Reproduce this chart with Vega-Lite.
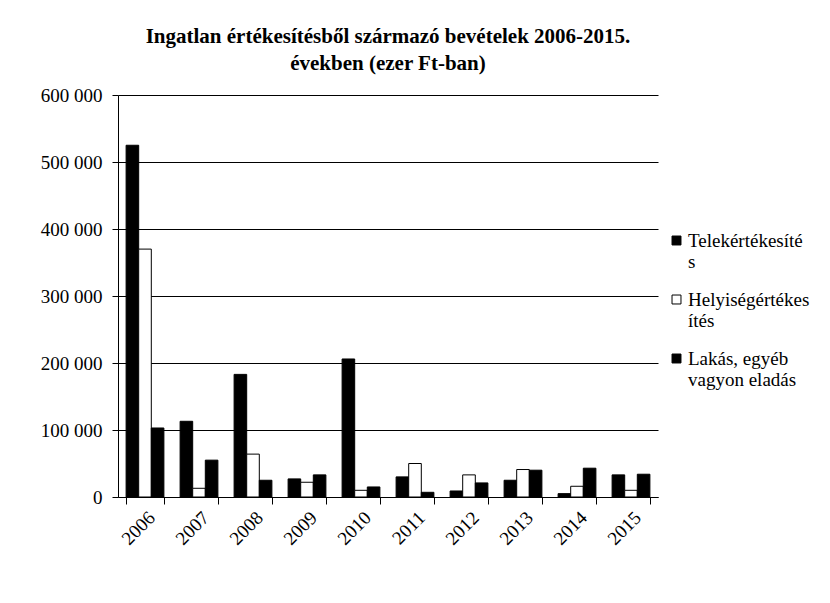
{
  "$schema": "https://vega.github.io/schema/vega-lite/v6.json",
  "width": 540,
  "height": 402,
  "autosize": {"type": "none"},
  "padding": {"left": 118, "top": 95, "right": 172, "bottom": 106},
  "background": "white",
  "title": {
    "text": ["Ingatlan értékesítésből származó bevételek 2006-2015.", "években (ezer Ft-ban)"],
    "font": "Liberation Serif",
    "fontSize": 21,
    "fontWeight": "bold",
    "color": "black",
    "anchor": "middle",
    "frame": "group",
    "lineHeight": 27,
    "offset": 12
  },
  "data": {
    "values": [
      {"ev": "2006", "sorozat": "Telekértékesítés", "ertek": 525000},
      {"ev": "2006", "sorozat": "Helyiségértékesítés", "ertek": 370000},
      {"ev": "2006", "sorozat": "Lakás, egyéb vagyon eladás", "ertek": 103000},
      {"ev": "2007", "sorozat": "Telekértékesítés", "ertek": 113000},
      {"ev": "2007", "sorozat": "Helyiségértékesítés", "ertek": 13000},
      {"ev": "2007", "sorozat": "Lakás, egyéb vagyon eladás", "ertek": 55000},
      {"ev": "2008", "sorozat": "Telekértékesítés", "ertek": 183000},
      {"ev": "2008", "sorozat": "Helyiségértékesítés", "ertek": 64000},
      {"ev": "2008", "sorozat": "Lakás, egyéb vagyon eladás", "ertek": 25000},
      {"ev": "2009", "sorozat": "Telekértékesítés", "ertek": 27000},
      {"ev": "2009", "sorozat": "Helyiségértékesítés", "ertek": 22000},
      {"ev": "2009", "sorozat": "Lakás, egyéb vagyon eladás", "ertek": 33000},
      {"ev": "2010", "sorozat": "Telekértékesítés", "ertek": 206000},
      {"ev": "2010", "sorozat": "Helyiségértékesítés", "ertek": 10000},
      {"ev": "2010", "sorozat": "Lakás, egyéb vagyon eladás", "ertek": 15000},
      {"ev": "2011", "sorozat": "Telekértékesítés", "ertek": 30000},
      {"ev": "2011", "sorozat": "Helyiségértékesítés", "ertek": 50000},
      {"ev": "2011", "sorozat": "Lakás, egyéb vagyon eladás", "ertek": 7000},
      {"ev": "2012", "sorozat": "Telekértékesítés", "ertek": 9000},
      {"ev": "2012", "sorozat": "Helyiségértékesítés", "ertek": 33000},
      {"ev": "2012", "sorozat": "Lakás, egyéb vagyon eladás", "ertek": 21000},
      {"ev": "2013", "sorozat": "Telekértékesítés", "ertek": 25000},
      {"ev": "2013", "sorozat": "Helyiségértékesítés", "ertek": 41000},
      {"ev": "2013", "sorozat": "Lakás, egyéb vagyon eladás", "ertek": 40000},
      {"ev": "2014", "sorozat": "Telekértékesítés", "ertek": 5000},
      {"ev": "2014", "sorozat": "Helyiségértékesítés", "ertek": 16000},
      {"ev": "2014", "sorozat": "Lakás, egyéb vagyon eladás", "ertek": 43000},
      {"ev": "2015", "sorozat": "Telekértékesítés", "ertek": 33000},
      {"ev": "2015", "sorozat": "Helyiségértékesítés", "ertek": 10000},
      {"ev": "2015", "sorozat": "Lakás, egyéb vagyon eladás", "ertek": 34000}
    ]
  },
  "mark": {"type": "bar", "stroke": "black", "strokeWidth": 1},
  "encoding": {
    "x": {
      "field": "ev",
      "type": "nominal",
      "scale": {"paddingInner": 0.3, "paddingOuter": 0.15},
      "axis": {
        "title": null,
        "labelAngle": -45,
        "labelFont": "Liberation Serif",
        "labelFontSize": 19,
        "labelColor": "black",
        "domainColor": "black",
        "ticks": true,
        "tickColor": "black",
        "tickWidth": 1,
        "tickSize": 7,
        "tickBand": "extent",
        "labelPadding": 4
      }
    },
    "xOffset": {
      "field": "sorozat",
      "type": "nominal",
      "sort": ["Telekértékesítés", "Helyiségértékesítés", "Lakás, egyéb vagyon eladás"],
      "scale": {"paddingInner": 0}
    },
    "y": {
      "field": "ertek",
      "type": "quantitative",
      "scale": {"domain": [0, 600000], "nice": false},
      "axis": {
        "title": null,
        "values": [0, 100000, 200000, 300000, 400000, 500000, 600000],
        "labelExpr": "replace(format(datum.value, ',d'), regexp(',', 'g'), ' ')",
        "labelFont": "Liberation Serif",
        "labelFontSize": 19,
        "labelColor": "black",
        "labelPadding": 10,
        "tickSize": 6,
        "tickColor": "black",
        "domainColor": "black",
        "gridColor": "black",
        "gridOpacity": 1,
        "grid": true
      }
    },
    "color": {
      "field": "sorozat",
      "type": "nominal",
      "sort": ["Telekértékesítés", "Helyiségértékesítés", "Lakás, egyéb vagyon eladás"],
      "scale": {
        "domain": ["Telekértékesítés", "Helyiségértékesítés", "Lakás, egyéb vagyon eladás"],
        "range": ["black", "white", "black"]
      },
      "legend": {
        "title": null,
        "orient": "none",
        "legendX": 549,
        "legendY": 136,
        "symbolType": "square",
        "symbolSize": 80,
        "symbolStrokeColor": "black",
        "symbolStrokeWidth": 1,
        "labelFont": "Liberation Serif",
        "labelFontSize": 19,
        "labelColor": "black",
        "labelOffset": 2,
        "labelLimit": 200,
        "rowPadding": 18,
        "labelExpr": "datum.label == 'Telekértékesítés' ? ['Telekértékesíté', 's'] : datum.label == 'Helyiségértékesítés' ? ['Helyiségértékes', 'ítés'] : ['Lakás, egyéb', 'vagyon eladás']"
      }
    }
  },
  "config": {
    "view": {"stroke": null},
    "axis": {"gridWidth": 1, "domainWidth": 1}
  }
}
